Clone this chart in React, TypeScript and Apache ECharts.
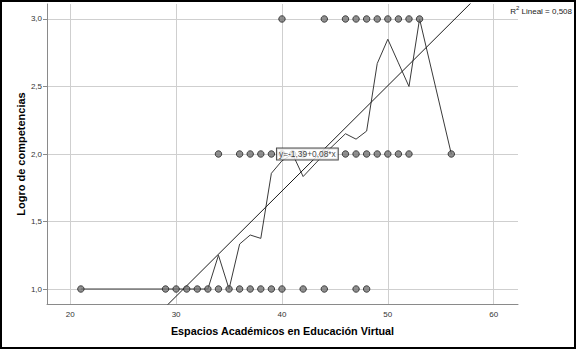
import React, { useEffect, useRef } from "react";
import * as echarts from "echarts";

// Tick labels
const xTicks = [20, 30, 40, 50, 60];
const yTicks = [1.0, 1.5, 2.0, 2.5, 3.0];

// Observed points (x values) at each competence level
const level1X = [21, 29, 30, 31, 32, 33, 34, 35, 36, 37, 38, 39, 40, 42, 44, 47, 48];
const level2X = [34, 36, 37, 38, 39, 40, 41, 42, 44, 46, 47, 48, 49, 50, 51, 52, 56];
const level3X = [40, 44, 46, 47, 48, 49, 50, 51, 52, 53];

// Mean line (interpolated through subgroup means)
const meanX = [21, 29, 30, 31, 32, 33, 34, 35, 36, 37, 38, 39, 40, 41, 42, 44, 46, 47, 48, 49, 50, 51, 52, 53, 56];
const meanY = [1, 1, 1, 1, 1, 1, 1.25, 1, 1.333, 1.4, 1.375, 1.857, 1.95, 2, 1.833, 2, 2.15, 2.11, 2.17, 2.67, 2.85, 2.675, 2.5, 3, 2];

// Linear fit
const fitIntercept = -1.394;
const fitSlope = 0.078;
const fitLabel = "y=-1,39+0,08*x";
const fitLabelPos = [42.4, 2.0];
const r2Text = "0,508";

const X_MIN = 17.8;
const X_MAX = 62.3;
const Y_MIN = 0.889;
const Y_MAX = 3.111;

const FONT = "'Liberation Sans', Arial, sans-serif";

export default function App() {
  const ref = useRef<HTMLDivElement>(null);
  useEffect(() => {
    if (!ref.current) return;
    const chart = echarts.init(ref.current, null, { renderer: "svg" });
    const pointStyle = { color: "#737373", borderColor: "#222222", borderWidth: 1 };
    const mk = (xs: number[], y: number) => xs.map((x) => [x, y]);
    chart.setOption({
      animation: false,
      backgroundColor: "#ffffff",
      textStyle: { fontFamily: FONT },
      grid: { left: 47, right: 58, top: 4, bottom: 45, containLabel: false },
      xAxis: {
        type: "value",
        min: X_MIN,
        max: X_MAX,
        name: "Espacios Académicos en Educación Virtual",
        nameLocation: "middle",
        nameGap: 21,
        nameMoveOverlap: false,
        nameTextStyle: { fontFamily: FONT, fontSize: 10.8, fontWeight: "bold", color: "#000" },
        axisLine: { show: true, lineStyle: { color: "#8a8a8a", width: 1 } },
        axisTick: { show: false, customValues: xTicks },
        axisLabel: {
          customValues: xTicks,
          fontSize: 8,
          color: "#333",
          margin: 6,
          fontFamily: FONT,
        },
        splitLine: { show: true, lineStyle: { color: "#cfcfcf", width: 1 } },
      },
      yAxis: {
        type: "value",
        min: Y_MIN,
        max: Y_MAX,
        name: "Logro de competencias",
        nameLocation: "middle",
        nameGap: 21,
        nameMoveOverlap: false,
        nameTextStyle: { fontFamily: FONT, fontSize: 11, fontWeight: "bold", color: "#000" },
        axisLine: { show: true, lineStyle: { color: "#8a8a8a", width: 1 } },
        axisTick: { show: true, customValues: yTicks, length: 4, lineStyle: { color: "#8a8a8a" } },
        axisLabel: {
          customValues: yTicks,
          fontSize: 8,
          color: "#333",
          margin: 5,
          fontFamily: FONT,
          formatter: (v: number) => v.toFixed(1).replace(".", ","),
        },
        splitLine: { show: true, lineStyle: { color: "#cfcfcf", width: 1 } },
      },
      graphic: [
        {
          type: "rect",
          shape: { x: 1, y: 1, width: 574, height: 347 },
          style: { fill: "none", stroke: "#000", lineWidth: 2 },
          z: 100,
        },
        {
          type: "text",
          right: 4,
          top: 5,
          style: {
            text: "{a|R}{s|2}{a| Lineal = " + r2Text + "}",
            rich: {
              a: { fontSize: 8, fontFamily: FONT, fill: "#222", verticalAlign: "bottom" },
              s: { fontSize: 6, fontFamily: FONT, fill: "#222", verticalAlign: "top", padding: [0, 0, 4, 0] },
            },
          },
        },
      ],
      series: [
        {
          type: "line",
          data: meanX.map((x, i) => [x, meanY[i]]),
          showSymbol: false,
          symbol: "none",
          lineStyle: { color: "#3a3a3a", width: 1 },
          z: 2,
        },
        {
          type: "line",
          data: [
            [X_MIN, fitIntercept + fitSlope * X_MIN],
            [X_MAX, fitIntercept + fitSlope * X_MAX],
          ],
          symbol: "none",
          clip: true,
          lineStyle: { color: "#1a1a1a", width: 1 },
          z: 3,
        },
        {
          type: "scatter",
          data: [...mk(level1X, 1), ...mk(level2X, 2), ...mk(level3X, 3)],
          symbol: "circle",
          symbolSize: 6.5,
          itemStyle: pointStyle,
          z: 4,
        },
        {
          type: "scatter",
          data: [fitLabelPos],
          symbolSize: 0,
          z: 10,
          label: {
            show: true,
            position: "inside",
            formatter: fitLabel,
            fontSize: 8.4,
            fontFamily: FONT,
            color: "#111",
            backgroundColor: "#ffffff",
            borderColor: "#222",
            borderWidth: 1,
            padding: [2, 2, 1, 2],
          },
        },
      ],
    });
    return () => chart.dispose();
  }, []);
  return (
    <div
      ref={ref}
      style={{ position: "fixed", left: 0, top: 0, width: 576, height: 349 }}
    />
  );
}
